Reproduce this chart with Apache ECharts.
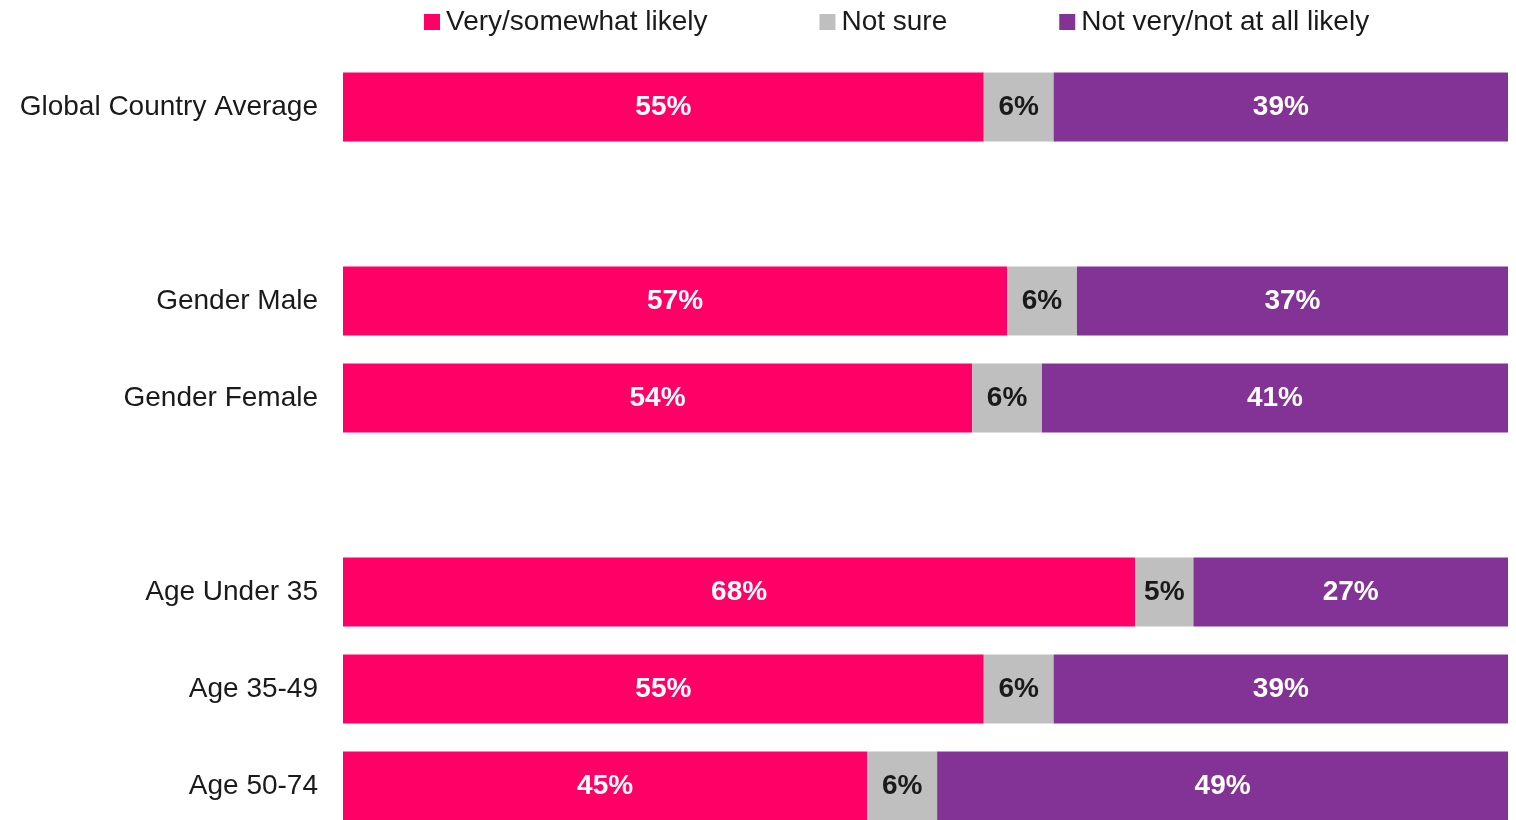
<!DOCTYPE html>
<html>
<head>
<meta charset="utf-8">
<script src="https://cdn.jsdelivr.net/npm/echarts@6/dist/echarts.min.js"></script>
<style>
	html, body { margin: 0; padding: 0; background: #fff; overflow: hidden; }
	/* taller than the window: the last row is cut off at the bottom like the original */
	#chart { width: 1516px; height: 860px; }
</style>
</head>
<body>
<div id="chart"></div>
<script>
// categories (blank rows are the gaps between groups)
var categories = ['Global Country Average', '', 'Gender Male', 'Gender Female', ' ', 'Age Under 35', 'Age 35-49', 'Age 50-74'];
// series values (%)
var likely = [55, '-', 57, 54, '-', 68, 55, 45];
var notSure = [6, '-', 6, 6, '-', 5, 6, 6];
var notLikely = [39, '-', 37, 41, '-', 27, 39, 49];

var myChart = echarts.init(document.getElementById('chart'));

function labelOf(color) {
	return {
		show: true,
		position: 'inside',
		formatter: '{c}%',
		color: color,
		fontSize: 28,
		fontWeight: 'bold',
		fontFamily: '"Liberation Sans Narrow", "Liberation Sans", Arial, sans-serif'
	};
}

myChart.setOption({
	animation: false,
	legend: {
		left: 419,
		top: 3,
		itemGap: 112,
		itemWidth: 16,
		itemHeight: 16,
		icon: 'rect',
		textStyle: {
			fontSize: 28,
			color: '#1a1a1a',
			fontFamily: '"Liberation Sans", Arial, sans-serif',
			padding: [0, 0, 0, 1]
		},
		data: ['Very/somewhat likely', 'Not sure', 'Not very/not at all likely']
	},
	grid: {
		left: 343,
		top: 58.5,
		width: 1165,
		height: 776
	},
	xAxis: {
		type: 'value',
		min: 0,
		max: 100,
		show: false
	},
	yAxis: {
		type: 'category',
		inverse: true,
		data: categories,
		axisLine: { show: false },
		axisTick: { show: false },
		axisLabel: {
			margin: 25,
			fontSize: 28,
			color: '#1a1a1a',
			fontFamily: '"Liberation Sans", Arial, sans-serif'
		}
	},
	series: [
		{
			name: 'Very/somewhat likely',
			type: 'bar',
			stack: 'total',
			barWidth: 69,
			data: likely,
			itemStyle: { color: '#FF0066' },
			label: labelOf('#ffffff')
		},
		{
			name: 'Not sure',
			type: 'bar',
			stack: 'total',
			barWidth: 69,
			data: notSure,
			itemStyle: { color: '#BFBFBF' },
			label: labelOf('#1a1a1a')
		},
		{
			name: 'Not very/not at all likely',
			type: 'bar',
			stack: 'total',
			barWidth: 69,
			data: notLikely,
			itemStyle: { color: '#833296' },
			label: labelOf('#ffffff')
		}
	]
});
</script>
</body>
</html>
